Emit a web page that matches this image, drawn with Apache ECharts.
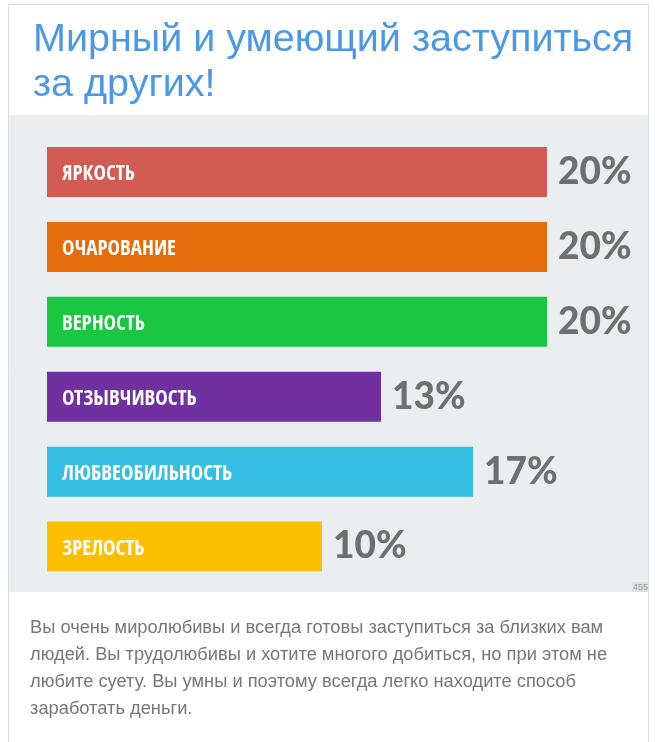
<!DOCTYPE html>
<html>
<head>
<meta charset="utf-8">
<script src="https://cdn.jsdelivr.net/npm/echarts@6/dist/echarts.min.js"></script>
<style>
    html, body {margin: 0; padding: 0; background: #fff;}
    #chart {width: 655px; height: 742px;}
</style>
</head>
<body>
<div id="chart"></div>
<script>
let traits = ['ЯРКОСТЬ', 'ОЧАРОВАНИЕ', 'ВЕРНОСТЬ', 'ОТЗЫВЧИВОСТЬ', 'ЛЮБВЕОБИЛЬНОСТЬ', 'ЗРЕЛОСТЬ'];
// bar lengths (percent)
let shares = [20, 20, 20, 13.36, 17.04, 11.0];
// percent labels as printed next to the bars
let share_labels = ['20%', '20%', '20%', '13%', '17%', '10%'];
let bar_colors = ['#d25b53', '#e46c0b', '#19c840', '#7030a0', '#36bee3', '#fdc000'];

let title_text = 'Мирный и умеющий заступиться\nза других!';
let desc_text = 'Вы очень миролюбивы и всегда готовы заступиться за близких вам\n' +
    'людей. Вы трудолюбивы и хотите многого добиться, но при этом не\n' +
    'любите суету. Вы умны и поэтому всегда легко находите способ\n' +
    'заработать деньги.';

let chart = echarts.init(document.getElementById('chart'), null, {renderer: 'canvas'});

let option = {
    backgroundColor: '#fff',
    animation: false,
    title: {
        text: title_text,
        left: 28,
        top: 13,
        textStyle: {
            color: '#4a98e6',
            fontFamily: 'Liberation Sans',
            fontWeight: 'normal',
            fontSize: 39.5,
            lineHeight: 45
        }
    },
    graphic: [
        {
            type: 'rect', z: -10, silent: true,
            shape: {x: 8.5, y: 4.5, width: 640, height: 760},
            style: {fill: '#fff', stroke: '#dcdcdc', lineWidth: 1}
        },
        {
            type: 'rect', z: -9, silent: true,
            shape: {x: 9, y: 115, width: 639, height: 477},
            style: {fill: '#eaeef0'}
        },
        {
            type: 'rect', z: -8, silent: true,
            shape: {x: 632, y: 582, width: 16, height: 10},
            style: {fill: '#dfe2e3'}
        },
        {
            type: 'text', z: 5, silent: true,
            left: 633, top: 583,
            style: {text: '455', fill: '#9a9a9a', fontSize: 9, fontFamily: 'Liberation Sans'}
        },
        {
            type: 'text', z: 5, silent: true,
            left: 30, top: 614,
            style: {
                text: desc_text,
                fill: '#777',
                fontSize: 18.3,
                lineHeight: 27,
                fontFamily: 'Liberation Sans'
            }
        }
    ],
    grid: {
        left: 47,
        top: 134.5,
        width: 600,
        height: 449.5
    },
    xAxis: {
        type: 'value',
        min: 0,
        max: 24,
        show: false
    },
    yAxis: {
        type: 'category',
        data: traits,
        inverse: true,
        show: false
    },
    series: [
        {
            type: 'bar',
            barWidth: 50,
            data: shares.map((v, i) => ({value: v, itemStyle: {color: bar_colors[i]}})),
            label: {
                show: true,
                position: 'right',
                distance: 11,
                formatter: (p) => share_labels[p.dataIndex],
                color: '#6f6f6f',
                fontFamily: 'Lato',
                fontWeight: 900,
                fontSize: 37
            }
        },
        {
            type: 'bar',
            barWidth: 50,
            barGap: '-100%',
            z: 3,
            data: shares,
            itemStyle: {color: 'rgba(0,0,0,0)'},
            label: {
                show: true,
                position: 'insideLeft',
                distance: 15,
                offset: [0, 3],
                formatter: '{b}',
                color: '#fff',
                fontFamily: 'Open Sans Condensed',
                fontWeight: 'bold',
                fontSize: 21
            }
        }
    ]
};

chart.setOption(option);
</script>
</body>
</html>
